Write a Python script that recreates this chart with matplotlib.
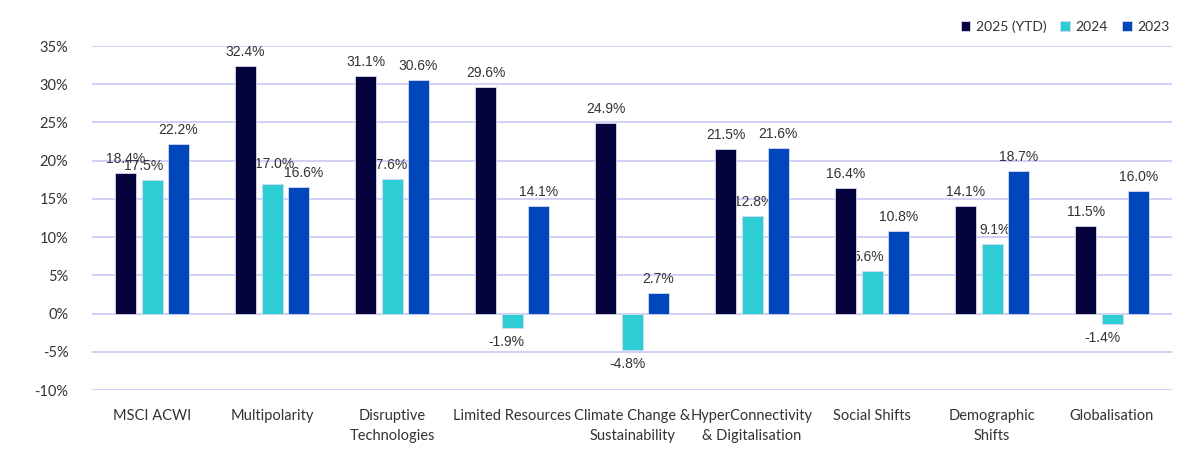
import numpy as np
import matplotlib
matplotlib.use("Agg")
import matplotlib.pyplot as plt

plt.rcParams['font.family'] = ['Lato', 'DejaVu Sans']

categories = ['MSCI ACWI', 'Multipolarity', 'Disruptive\nTechnologies', 'Limited Resources',
              'Climate Change &\nSustainability', 'HyperConnectivity\n& Digitalisation',
              'Social Shifts', 'Demographic\nShifts', 'Globalisation']
ytd_2025 = [18.4, 32.4, 31.1, 29.6, 24.9, 21.5, 16.4, 14.1, 11.5]
y_2024 = [17.5, 17.0, 17.6, -1.9, -4.8, 12.8, 5.6, 9.1, -1.4]
y_2023 = [22.2, 16.6, 30.6, 14.1, 2.7, 21.6, 10.8, 18.7, 16.0]
series_names = ['2025 (YTD)', '2024', '2023']
colors = ['#05033b', '#2ecfd4', '#0047bb']
text_col = '#333333'

# small nudges (points) of data labels, like the original's auto placement
nudge = {(1, 0): (-6, 0), (1, 1): (2, 4), (1, 2): (-3, 0), (1, 3): (-4, 0),
         (1, 4): (-3, 0), (1, 5): (1, 0), (1, 6): (-3, 0), (1, 7): (2, 0),
         (1, 8): (-7, 0), (2, 1): (4, 0)}

fig = plt.figure(figsize=(12, 4.59), dpi=100)
ax = fig.add_axes([92 / 1200, 69 / 459, 1080 / 1200, 344 / 459])

x = np.arange(len(categories))
w = 0.175
off = 0.22
for i, (vals, name, c) in enumerate(zip([ytd_2025, y_2024, y_2023], series_names, colors)):
    pos = x + (i - 1) * off
    ax.bar(pos, vals, width=w, color=c, edgecolor='#d8d8f0', linewidth=0.6,
           label=name, zorder=3)
    for j, (p, v) in enumerate(zip(pos, vals)):
        dx, dy = nudge.get((i, j), (0, 0))
        ax.annotate(f'{v:.1f}%', (p, v), xytext=(dx, (5 if v >= 0 else -5) + dy),
                    textcoords='offset points', ha='center',
                    va='bottom' if v >= 0 else 'top', family='Liberation Sans',
                    fontsize=10, color=text_col, zorder=2)

ax.set_xlim(-0.5, len(categories) - 0.5)
ax.set_ylim(-10, 35)
ax.set_yticks(np.arange(-10, 36, 5))
ax.set_yticklabels([f'{t}%' for t in range(-10, 36, 5)])
ax.set_xticks(x)
ax.set_xticklabels(categories, linespacing=1.5)
ax.tick_params(axis='both', length=0, labelsize=10.5, colors=text_col)
ax.tick_params(axis='y', pad=17)
ax.tick_params(axis='x', pad=14)
ax.yaxis.grid(True, color='#c8c8f8', linewidth=1.2, zorder=0)
ax.set_axisbelow(True)
for s in ax.spines.values():
    s.set_visible(False)

fig.legend(loc='upper right', bbox_to_anchor=(1182 / 1200, 1 - 8 / 459), ncol=3,
           frameon=False, fontsize=10, handlelength=0.7, handleheight=0.7,
           handletextpad=0.4, columnspacing=1.0, labelcolor=text_col)

fig.savefig('out.png', dpi=100)
